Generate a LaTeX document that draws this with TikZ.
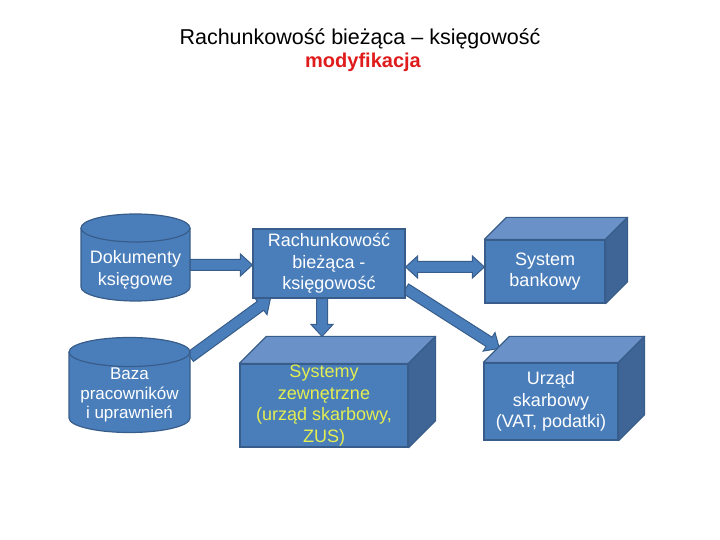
\documentclass[tikz,border=0pt]{standalone}
\usepackage{fontspec}
\setmainfont{Liberation Sans}
\usetikzlibrary{calc,backgrounds}
\definecolor{bfill}{HTML}{4A7EBB}
\definecolor{bline}{HTML}{385D8A}
\definecolor{btop}{HTML}{6B92C8}
\definecolor{bside}{HTML}{3E6596}
\definecolor{ytext}{RGB}{228,238,80}
\definecolor{titlered}{HTML}{E01B1B}
\newcommand\ap[2]{($(\p1)+({\n1}:{#1})+({\n1+90}:{#2})$)}
\newcommand\blockarrow[2]{%
  \draw[arr] let \p1=#1, \p2=#2, \n1={atan2(\y2-\y1,\x2-\x1)}, \n2={veclen(\x2-\x1,\y2-\y1)}, \n3={\n2-12} in
  \ap{0}{5.5} -- \ap{\n3}{5.5} -- \ap{\n3}{11} -- (\p2) -- \ap{\n3}{-11} -- \ap{\n3}{-5.5} -- \ap{0}{-5.5} -- cycle;}
\newcommand\dblarrow[2]{%
  \draw[arr] let \p1=#1, \p2=#2, \n1={atan2(\y2-\y1,\x2-\x1)}, \n2={veclen(\x2-\x1,\y2-\y1)}, \n3={\n2-12} in
  (\p1) -- \ap{12}{11} -- \ap{12}{5.5} -- \ap{\n3}{5.5} -- \ap{\n3}{11} -- (\p2) -- \ap{\n3}{-11} -- \ap{\n3}{-5.5} -- \ap{12}{-5.5} -- \ap{12}{-11} -- cycle;}
\begin{document}
\begin{tikzpicture}[x=1pt,y=1pt,
  box/.style={draw=bline, fill=bfill, line width=1.2pt, text=white, font=\fontsize{18}{21.5}\selectfont, align=center, inner sep=0pt},
  cubetop/.style={draw=bline, fill=btop, line width=1.2pt, line join=round},
  cubeside/.style={draw=bline, fill=bside, line width=1.2pt, line join=round},
  cyl/.style={draw=bline, fill=bfill, line width=1.2pt},
  cyltext/.style={text=white, align=center, inner sep=0pt},
  arr/.style={draw=bline, fill=bfill, line width=1pt, line join=miter},
  title/.style={font=\fontsize{21.5}{24}\selectfont, anchor=base}]
\useasboundingbox (0,0) rectangle (720,540);

% title
\node[title] (t1) at (360,495) {Rachunkowość bieżąca – księgowość};
\node[title, text=titlered, font=\fontsize{20}{24}\selectfont\bfseries] (t2) at (363,472) {modyfikacja};

% cylinder: Dokumenty
\path[cyl] (81,312) -- (81,253) arc[start angle=180,end angle=360,x radius=54.5,y radius=14] -- (190,312) arc[start angle=0,end angle=180,x radius=54.5,y radius=14] -- cycle;
\draw[cyl, fill=none] (81,312) arc[start angle=180,end angle=360,x radius=54.5,y radius=14];
\node[cyltext, font=\fontsize{18}{21.5}\selectfont, minimum width=109] (dok) at (135.5,270) {Dokumenty\\księgowe};

% cylinder: Baza
\path[cyl] (69,188) -- (69,122) arc[start angle=180,end angle=360,x radius=60.5,y radius=14.5] -- (190,188) arc[start angle=0,end angle=180,x radius=60.5,y radius=14.5] -- cycle;
\draw[cyl, fill=none] (69,188) arc[start angle=180,end angle=360,x radius=60.5,y radius=14.5];
\node[cyltext, font=\fontsize{17}{19.5}\selectfont, minimum width=121, minimum height=80] (baza) at (129.5,145) {Baza\\pracowników\\i uprawnień};

% central box
\node[box, minimum width=152, minimum height=69] (rach) at (329,276.5) {Rachunkowość\\bieżąca -\\księgowość};

% cube: System bankowy
\node[box, minimum width=120, minimum height=63] (bank) at (545,268.5) {System\\bankowy};
\draw[cubetop] (bank.north west) -- ++(22,22) -- ($(bank.north east)+(22,22)$) -- (bank.north east) -- cycle;
\draw[cubeside] (bank.north east) -- ++(22,22) -- ($(bank.south east)+(22,22)$) -- (bank.south east) -- cycle;

% cube: Systemy zewnetrzne
\node[box, text=ytext, minimum width=168, minimum height=83] (sys) at (324,134.5) {Systemy\\zewnętrzne\\(urząd skarbowy,\\ZUS)};
\draw[cubetop] (sys.north west) -- ++(27,27) -- ($(sys.north east)+(27,27)$) -- (sys.north east) -- cycle;
\draw[cubeside] (sys.north east) -- ++(27,27) -- ($(sys.south east)+(27,27)$) -- (sys.south east) -- cycle;

% cube: Urzad skarbowy
\node[box, minimum width=134, minimum height=77] (urz) at (551,138.5) {Urząd\\skarbowy\\(VAT, podatki)};
\draw[cubetop] (urz.north west) -- ++(26,26) -- ($(urz.north east)+(26,26)$) -- (urz.north east) -- cycle;
\draw[cubeside] (urz.north east) -- ++(26,26) -- ($(urz.south east)+(26,26)$) -- (urz.south east) -- cycle;

% connectors
\begin{scope}[on background layer]
\blockarrow{([yshift=5]dok.east)}{([yshift=-1.5]rach.west)}
\blockarrow{([yshift=38]baza.east)}{([xshift=18]rach.south west)}
\blockarrow{([xshift=-7]rach.south)}{($(sys.north)+(-2,27)$)}
\dblarrow{([yshift=-3.5]rach.east)}{([yshift=4.5]bank.west)}
\blockarrow{([yshift=10]rach.south east)}{($(urz.north west)+(16,14)$)}
\end{scope}
\end{tikzpicture}
\end{document}
